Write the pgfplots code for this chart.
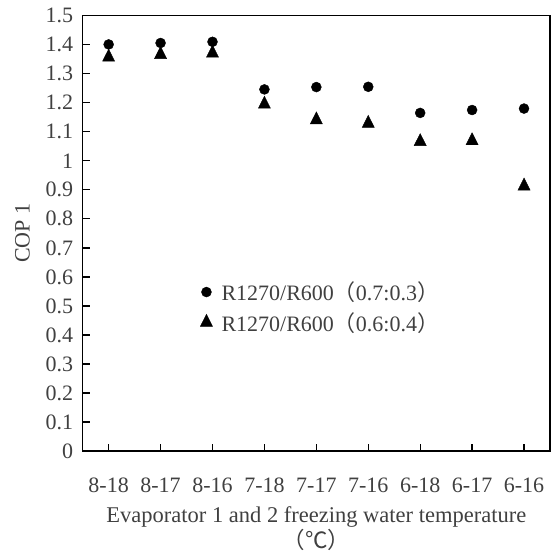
\documentclass[border=0pt]{standalone}
\usepackage{pgfplots}
\pgfplotsset{compat=1.18}
\usepackage{fontspec}
\setmainfont{Liberation Serif}
\newfontfamily\cjk{Noto Sans CJK SC}
\definecolor{txt}{HTML}{404040}
\begin{document}
\begin{tikzpicture}[x=1pt,y=1pt]
\path[use as bounding box] (0,0) rectangle (551,552);
\begin{axis}[
  at={(82.7pt,101pt)}, anchor=south west,
  scale only axis, width=467.3pt, height=435.3pt,
  xmin=-0.5, xmax=8.5, ymin=0, ymax=1.5,
  xtick={0,...,8},
  xticklabels={8-18,8-17,8-16,7-18,7-17,7-16,6-18,6-17,6-16},
  ytick={0,0.1,...,1.5},
  yticklabels={0,0.1,0.2,0.3,0.4,0.5,0.6,0.7,0.8,0.9,1,1.1,1.2,1.3,1.4,1.5},
  tick align=inside, tick pos=left,
  major tick length=7pt,
  axis line style={line width=1.5pt},
  every tick/.style={line width=1.3pt, black},
  tick label style={text=txt, font=\fontsize{22}{26}\selectfont},
  /pgf/number format/assume math mode=true,
  xticklabel style={yshift=-23.5pt},
  yticklabel style={xshift=-6pt},
  xlabel={\begin{tabular}{c}Evaporator 1 and 2 freezing water temperature\\[-2pt]{\cjk （℃）}\end{tabular}},
  xlabel style={text=txt, yshift=-4pt, font=\fontsize{22.5}{27}\selectfont},
  ylabel={COP 1},
  ylabel style={text=txt, yshift=9pt, font=\fontsize{22}{26}\selectfont},
  legend style={draw=none, fill=none, at={(0.245,0.3303)}, anchor=west,
    font=\fontsize{22}{26}\selectfont, text=txt, row sep=6pt,
    /tikz/every odd column/.append style={column sep=7pt}},
  legend cell align=left,
  legend image code/.code={\draw[#1] plot coordinates {(0pt,0pt)};},
]
\addplot[only marks, mark=*, mark size=5pt, black] coordinates {
(0,1.401)(1,1.406)(2,1.410)(3,1.246)(4,1.254)(5,1.255)(6,1.165)(7,1.175)(8,1.180)};
\addlegendentry{R1270/R600{\cjk （}0.7:0.3{\cjk ）}}
\addplot[only marks, mark=triangle*, mark size=7pt, mark options={yscale=1.15}, black] coordinates {
(0,1.357)(1,1.366)(2,1.371)(3,1.195)(4,1.141)(5,1.129)(6,1.066)(7,1.069)(8,0.913)};
\addlegendentry{R1270/R600{\cjk （}0.6:0.4{\cjk ）}}
\end{axis}
\end{tikzpicture}
\end{document}
